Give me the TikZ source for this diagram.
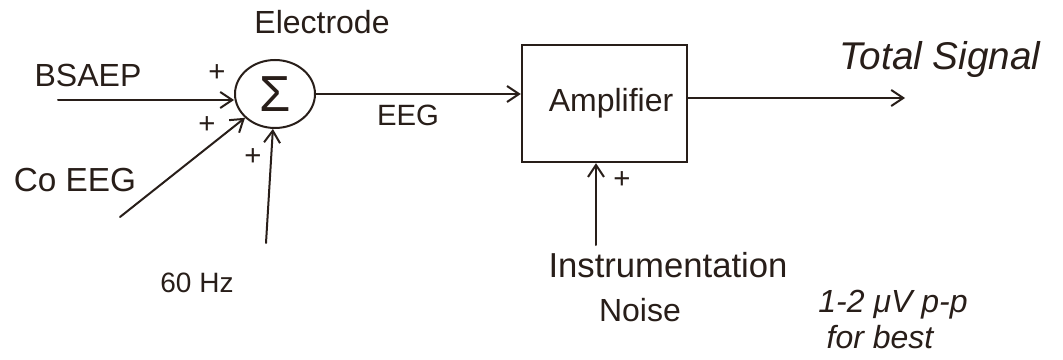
\documentclass[tikz,border=0pt]{standalone}
\usepackage{fontspec}
\setmainfont{Liberation Sans}
\usetikzlibrary{arrows.meta,shapes.geometric}
\definecolor{ink}{RGB}{40,30,25}
\begin{document}
\begin{tikzpicture}[x=0.75pt,y=-0.75pt,
  lbl/.style={text=ink,font=\fontsize{24}{28}\selectfont,inner sep=0pt},
  pm/.style={text=ink,font=\fontsize{22}{24}\selectfont,inner sep=0pt},
  wire/.style={draw=ink,line width=1.5pt,line cap=round},
  sig/.style={wire,-{Straight Barb[length=9pt,width=12pt,line width=1.5pt]}}]
\useasboundingbox[fill=white] (0,0) rectangle (1063,360);
% blocks
\node[ellipse,draw=ink,line width=1.5pt,minimum width=60pt,minimum height=51pt,inner sep=0pt,text=ink,font=\fontsize{38}{38}\selectfont] (sum) at (275,94) {Σ};
\node[rectangle,draw=ink,line width=1.5pt,minimum width=124pt,minimum height=88pt,inner sep=0pt] (amp) at (604.5,103.5) {};
\node[lbl] (amptxt) at (611,103) {Amplifier};
% input coordinates
\coordinate (bs) at (58,100);
\coordinate (ce) at (120,217);
\coordinate (hz) at (266,243);
\coordinate (ns) at (596,245);
\coordinate (out) at (905,98);
% connectors
\draw[sig] (bs) -- (bs -| sum.west);
\draw[sig] (ce) -- (sum);
\draw[sig] (hz) -- (sum);
\draw[sig] (sum.east) -- (sum.east -| amp.west);
\draw[sig] (out -| amp.east) -- (out);
\draw[sig] (ns) -- (ns |- amp.south);
% labels
\node[lbl] (electrode) at (322,22) {Electrode};
\node[lbl] (bsaep) at (88,75) {BSAEP};
\node[lbl,font=\fontsize{25}{28}\selectfont] (coeeg) at (75,180) {Co EEG};
\node[lbl,font=\fontsize{21}{24}\selectfont] (hzl) at (197,283) {60 Hz};
\node[lbl,font=\fontsize{22}{24}\selectfont] (eeg) at (408,115) {EEG};
\node[lbl,font=\fontsize{29}{32}\selectfont\itshape] (total) at (940,60) {Total Signal};
\node[lbl,font=\fontsize{26}{28}\selectfont] (instr) at (668,265) {Instrumentation};
\node[lbl] (noise) at (640,310) {Noise};
\node[lbl,font=\fontsize{24}{28}\selectfont\itshape] (uv) at (893,305) {1-2 μV p-p};
\node[lbl,font=\fontsize{24}{28}\selectfont\itshape] (best) at (880,337) {for best};
% signs
\node[pm] (p1) at (217,73) {+};
\node[pm] (p2) at (207,125) {+};
\node[pm] (p3) at (253,157) {+};
\node[pm] (p4) at (622,180) {+};
\end{tikzpicture}
\end{document}
